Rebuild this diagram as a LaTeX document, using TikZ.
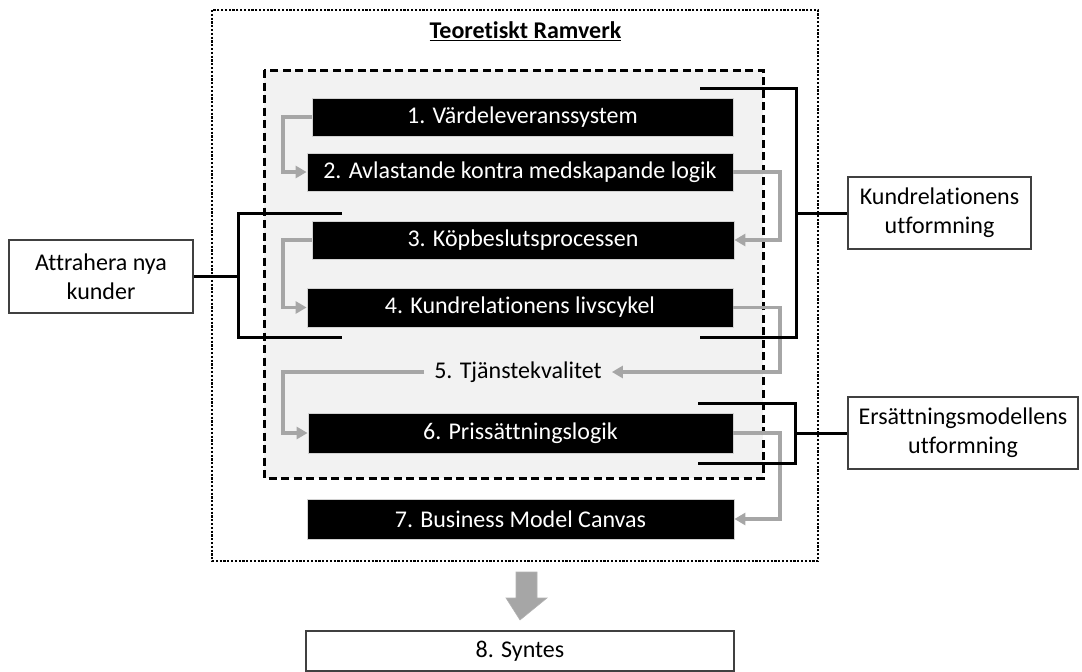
\documentclass[tikz,border=0pt]{standalone}
\usepackage{fontspec}
\setmainfont{Carlito}[Ligatures=NoCommon]
\usetikzlibrary{arrows.meta}
\definecolor{linkgray}{HTML}{A6A6A6}
\definecolor{panel}{HTML}{F2F2F2}
\definecolor{edge}{HTML}{404040}
\begin{document}
\begin{tikzpicture}[x=1pt,y=-1pt,
  every node/.style={font=\fontsize{24}{29}\selectfont},
  stagebox/.style={fill=black,draw=gray!35,line width=0.8pt,text=white,inner sep=0pt},
  sidebox/.style={fill=white,draw=edge,line width=1.1pt,align=center,inner sep=0pt},
  flow/.style={draw=linkgray,line width=3.2pt,-{Triangle[length=11pt,width=12pt]}},
  brace/.style={draw=black,line width=3pt},
]
\useasboundingbox (0,0) rectangle (1082,672);

% outer frame and inner panel
\draw[line width=2.6pt,dash pattern=on 2.2pt off 1.6pt] (212,10) rectangle (818,561);
\draw[fill=panel,line width=3pt,dash pattern=on 8pt off 4.5pt] (264,70) rectangle (763,478);
\node[font=\fontsize{24}{29}\selectfont\bfseries] (title) at (525.5,31) {\underline{Teoretiskt Ramverk}};

% stages
\node[stagebox,minimum width=421pt,minimum height=38pt] (b1) at (522.5,117) {1. Värdeleveranssystem};
\node[stagebox,minimum width=426pt,minimum height=38pt] (b2) at (520,172) {2. Avlastande kontra medskapande logik};
\node[stagebox,minimum width=422pt,minimum height=38pt] (b3) at (523,240) {3. Köpbeslutsprocessen};
\node[stagebox,minimum width=426pt,minimum height=39pt] (b4) at (520,307.5) {4. Kundrelationens livscykel};
\node[inner xsep=10pt,inner ysep=2pt] (b5) at (518,372) {5. Tjänstekvalitet};
\node[stagebox,minimum width=425pt,minimum height=40pt] (b6) at (520.5,433) {6. Prissättningslogik};
\node[stagebox,minimum width=427pt,minimum height=40pt] (b7) at (520.5,519) {7. Business Model Canvas};
\node[sidebox,minimum width=428pt,minimum height=40pt] (b8) at (520,651) {8. Syntes};

% perspectives
\node[sidebox,minimum width=184pt,minimum height=73pt] (attr) at (101,276.5) {Attrahera nya\\kunder};
\node[sidebox,minimum width=183pt,minimum height=72pt] (kund) at (939.5,213) {Kundrelationens\\utformning};
\node[sidebox,minimum width=230pt,minimum height=72pt] (ers) at (963,433) {Ersättningsmodellens\\utformning};

% grey flow between the stages
\coordinate (lx) at (283,0);
\coordinate (rx) at (780,0);
\draw[flow] (b1.west) -| (lx |- b2.west) -- (b2.west);
\draw[flow] (b2.east) -| (rx |- b3.east) -- (b3.east);
\draw[flow] (b3.west) -| (lx |- b4.west) -- (b4.west);
\draw[flow] (b4.east) -| (rx |- b5.east) -- (b5.east);
\draw[flow] (b5.west) -| (lx |- b6.west) -- (b6.west);
\draw[flow] (b6.east) -| (rx |- b7.east) -- (b7.east);

% brackets grouping the stages
\coordinate (k1) at (700,88);
\coordinate (k2) at (700,337);
\coordinate (kv) at (796,213);
\draw[brace] (k1) -| (kv) |- (k2);
\draw[brace] (kv) -- (kund.west);

\coordinate (a1) at (342,213);
\coordinate (a2) at (342,337);
\coordinate (av) at (238,276.5);
\draw[brace] (a1) -| (av) |- (a2);
\draw[brace] (av) -- (attr.east);

\coordinate (e1) at (698,403);
\coordinate (e2) at (698,463);
\coordinate (ev) at (795,433);
\draw[brace] (e1) -| (ev) |- (e2);
\draw[brace] (ev) -- (ers.west);

% block arrow down to the synthesis
\coordinate (tip) at (b8.north |- 0,620);
\fill[linkgray,draw=gray!60,line width=0.6pt]
  (516,572) -- (537,572) -- (537,598) -- (547,598) -- (tip) -- (506,598) -- (516,598) -- cycle;
\end{tikzpicture}
\end{document}
